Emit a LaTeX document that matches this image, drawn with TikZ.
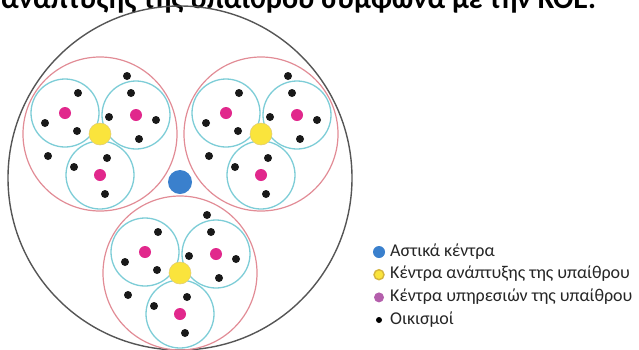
\documentclass[tikz,border=0pt]{standalone}
\usepackage{fontspec}
\setmainfont{Carlito}
\usetikzlibrary{positioning}

\definecolor{outergray}{RGB}{85,85,85}
\definecolor{ringred}{RGB}{226,140,150}
\definecolor{zonecyan}{RGB}{125,205,215}
\definecolor{urbanblue}{RGB}{58,128,205}
\definecolor{devyellow}{RGB}{250,228,60}
\definecolor{devedge}{RGB}{212,180,60}
\definecolor{servmagenta}{RGB}{225,40,140}
\definecolor{keypurple}{RGB}{180,95,172}

\begin{document}
\begin{tikzpicture}[
    x=1pt, y=-1pt,
    outer/.style={circle, draw=outergray, line width=1.4pt, minimum size=344pt, inner sep=0pt},
    ring/.style={circle, draw=ringred, line width=1.2pt, minimum size=154pt, inner sep=0pt},
    zone/.style={circle, draw=zonecyan, line width=1.3pt, minimum size=68pt, inner sep=0pt},
    urban/.style={circle, fill=urbanblue, minimum size=24pt, inner sep=0pt},
    devcentre/.style={circle, fill=devyellow, draw=devedge!70, line width=0.5pt, minimum size=22pt, inner sep=0pt},
    servcentre/.style={circle, fill=servmagenta, minimum size=12pt, inner sep=0pt},
    village/.style={circle, fill=black!90, minimum size=8pt, inner sep=0pt},
    keydot/.style={circle, inner sep=0pt},
    keytext/.style={anchor=west, inner sep=0pt, text height=12pt, text depth=4pt, text=black!85, font=\fontsize{18}{21}\selectfont},
    cluster/.pic={
      \node[ring] (-ring) at (0,0) {};
      \node[zone] (-z1) at (-35,-21) {};
      \node[zone] (-z2) at (36,-19) {};
      \node[zone] (-z3) at (0,41) {};
      \node[servcentre] (-s1) at (-35,-21) {};
      \node[servcentre] (-s2) at (36,-19) {};
      \node[servcentre] (-s3) at (0,41) {};
      \node[village] (-v1) at (27,-58) {};
      \node[village] (-v2) at (31,-41) {};
      \node[village] (-v3) at (-22,-41) {};
      \node[village] (-v4) at (-55,-11) {};
      \node[village] (-v5) at (-23,-3) {};
      \node[village] (-v6) at (9,-17) {};
      \node[village] (-v7) at (56,-14) {};
      \node[village] (-v8) at (39,5) {};
      \node[village] (-v9) at (-52,22) {};
      \node[village] (-v10) at (-26,33) {};
      \node[village] (-v11) at (7,24) {};
      \node[village] (-v12) at (5,60) {};
      \node[devcentre] (-core) at (0,0) {};
    }
  ]
    \fill[white] (0,0) rectangle (639,349);
    \useasboundingbox (0,0) rectangle (639,349);

    % Title (cut at the top edge)
    \node[anchor=base west, inner sep=0pt, font=\bfseries\fontsize{30}{33}\selectfont] (title) at (1,8) {ανάπτυξης της υπαίθρου σύμφωνα με την ΚΟΕ.};

    % Region
    \node[outer] (region) at (180,178) {};
    \node[urban] (city) at (180,182) {};

    % Clusters
    \pic (nw) at (100,134) {cluster};
    \pic (ne) at (261,134) {cluster};
    \pic (s) at (180,273) {cluster};

    % Legend
    \node[keydot, fill=urbanblue, minimum size=12pt] (k1) at (379,252) {};
    \node[keytext, right=11pt of k1.center] (t1) {Αστικά κέντρα};
    \node[keydot, fill=devyellow, draw=devedge, line width=1.4pt, minimum size=10pt] (k2) at (379,274.7) {};
    \node[keytext, right=11pt of k2.center] (t2) {Κέντρα ανάπτυξης της υπαίθρου};
    \node[keydot, fill=keypurple, minimum size=10pt] (k3) at (379,297.4) {};
    \node[keytext, right=11pt of k3.center] (t3) {Κέντρα υπηρεσιών της υπαίθρου};
    \node[keydot, fill=black, minimum size=6pt] (k4) at (379,320) {};
    \node[keytext, right=11pt of k4.center] (t4) {Οικισμοί};
  \end{tikzpicture}
\end{document}
